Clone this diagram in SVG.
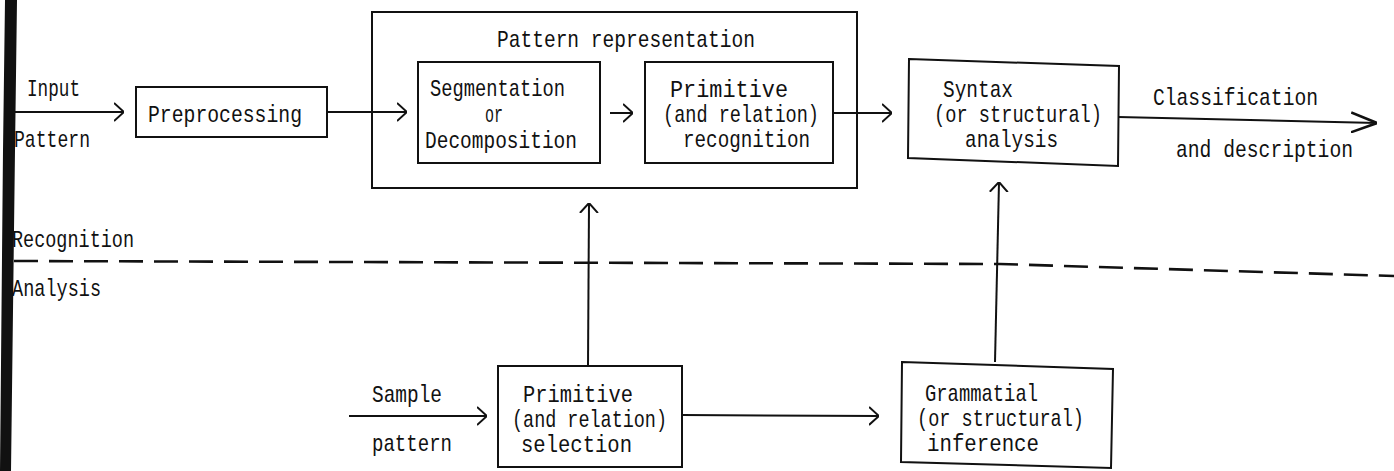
<svg xmlns="http://www.w3.org/2000/svg" width="1394" height="471" viewBox="0 0 1394 471">
<style>
text{font-family:"Liberation Mono","DejaVu Sans Mono",monospace;font-size:24px;fill:#111}
.box{fill:none;stroke:#111;stroke-width:2}
.ln{fill:none;stroke:#111;stroke-width:2}
.dash{fill:none;stroke:#111;stroke-width:2.6;stroke-dasharray:24 11}
</style>
<defs>
<marker id="ah" viewBox="0 0 10 20" refX="10" refY="10" markerWidth="10" markerHeight="20" markerUnits="userSpaceOnUse" orient="auto">
<path d="M0,1 L10,10 L0,19" fill="none" stroke="#111" stroke-width="2"/>
</marker>
<marker id="ahbig" viewBox="0 0 26 22" refX="26" refY="11" markerWidth="26" markerHeight="22" markerUnits="userSpaceOnUse" orient="auto">
<path d="M0,1 L26,11 L0,21" fill="none" stroke="#111" stroke-width="2.6"/>
</marker>
</defs>
<rect width="1394" height="471" fill="#fff"/>
<polygon points="5,0 17,0 15,150 11,471 0,471 3,150" fill="#111"/>

<g id="labels">
<text x="27" y="96" textLength="53" lengthAdjust="spacingAndGlyphs">Input</text>
<text x="14" y="147" textLength="76" lengthAdjust="spacingAndGlyphs">Pattern</text>
<text x="1153" y="105" textLength="165" lengthAdjust="spacingAndGlyphs">Classification</text>
<text x="1176" y="157" textLength="177" lengthAdjust="spacingAndGlyphs">and description</text>
<text x="12" y="247" textLength="122" lengthAdjust="spacingAndGlyphs">Recognition</text>
<text x="12" y="296" textLength="89" lengthAdjust="spacingAndGlyphs">Analysis</text>
<text x="372" y="402" textLength="70" lengthAdjust="spacingAndGlyphs">Sample</text>
<text x="372" y="451" textLength="80" lengthAdjust="spacingAndGlyphs">pattern</text>
</g>

<g id="preprocessing">
<rect class="box" x="136" y="87" width="191" height="50"/>
<text x="148" y="122" textLength="154" lengthAdjust="spacingAndGlyphs">Preprocessing</text>
</g>

<g id="pattern-representation">
<rect class="box" x="372" y="12" width="485" height="176"/>
<text x="497" y="47" textLength="258" lengthAdjust="spacingAndGlyphs">Pattern representation</text>
</g>

<g id="segmentation">
<rect class="box" x="418" y="62" width="182" height="101"/>
<text x="430" y="96" textLength="135" lengthAdjust="spacingAndGlyphs">Segmentation</text>
<text x="485" y="122" textLength="18" lengthAdjust="spacingAndGlyphs">or</text>
<text x="425" y="148" textLength="152" lengthAdjust="spacingAndGlyphs">Decomposition</text>
</g>

<g id="primitive-recognition">
<rect class="box" x="645" y="62" width="188" height="101"/>
<text x="670" y="97" textLength="118" lengthAdjust="spacingAndGlyphs">Primitive</text>
<text x="663" y="122" textLength="156" lengthAdjust="spacingAndGlyphs">(and relation)</text>
<text x="683" y="147" textLength="127" lengthAdjust="spacingAndGlyphs">recognition</text>
</g>

<g id="syntax">
<polygon class="box" points="909,59 1119,66 1118,166 908,158"/>
<text x="943" y="97" textLength="70" lengthAdjust="spacingAndGlyphs">Syntax</text>
<text x="934" y="122" textLength="168" lengthAdjust="spacingAndGlyphs">(or structural)</text>
<text x="965" y="147" textLength="93" lengthAdjust="spacingAndGlyphs">analysis</text>
</g>

<g id="primitive-selection">
<rect class="box" x="498" y="366" width="184" height="101"/>
<text x="523" y="402" textLength="110" lengthAdjust="spacingAndGlyphs">Primitive</text>
<text x="512" y="427" textLength="155" lengthAdjust="spacingAndGlyphs">(and relation)</text>
<text x="521" y="452" textLength="111" lengthAdjust="spacingAndGlyphs">selection</text>
</g>

<g id="grammatical-inference">
<polygon class="box" points="902,362 1113,369 1111,468 901,462"/>
<text x="925" y="401" textLength="113" lengthAdjust="spacingAndGlyphs">Grammatial</text>
<text x="917" y="426" textLength="167" lengthAdjust="spacingAndGlyphs">(or structural)</text>
<text x="927" y="451" textLength="112" lengthAdjust="spacingAndGlyphs">inference</text>
</g>

<g id="connectors">
<path class="ln" d="M10,112 L124,112" marker-end="url(#ah)"/>
<path class="ln" d="M327,112 L407,112" marker-end="url(#ah)"/>
<path class="ln" d="M610,113 L633,113" marker-end="url(#ah)"/>
<path class="ln" d="M833,113 L892,113" marker-end="url(#ah)"/>
<path class="ln" d="M1118,117 L1377,123" stroke-width="2.6" marker-end="url(#ahbig)"/>
<path class="ln" d="M349,416 L487,416" marker-end="url(#ah)"/>
<path class="ln" d="M588,366 L589,203" marker-end="url(#ah)"/>
<path class="ln" d="M682,415 L879,416" marker-end="url(#ah)"/>
<path class="ln" d="M995,362 L999,182" marker-end="url(#ah)"/>
<path class="dash" d="M14,261 L1000,264 L1394,276"/>
</g>
</svg>
